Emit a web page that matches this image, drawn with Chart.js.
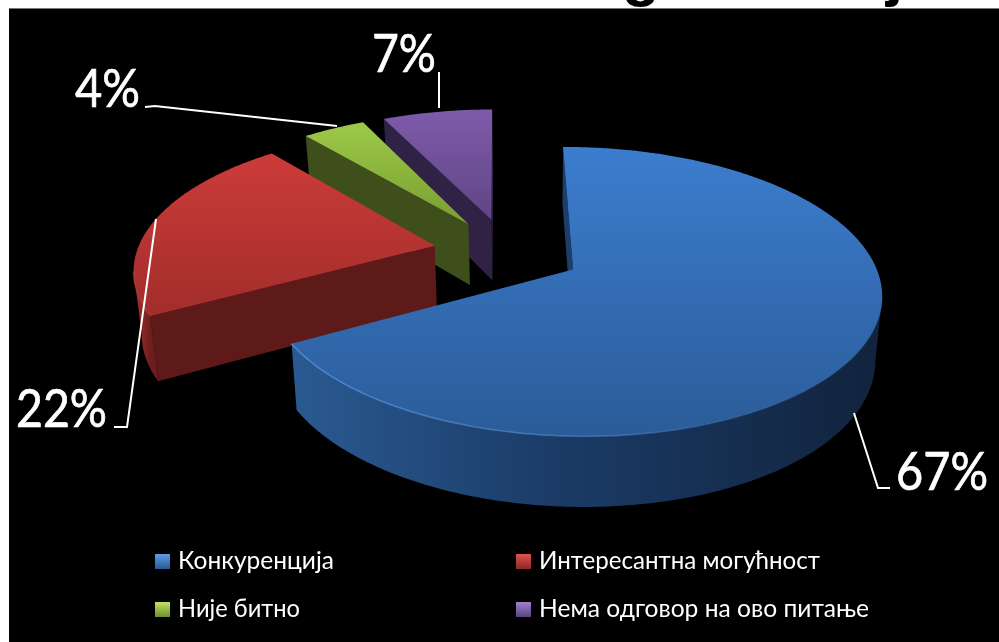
<!DOCTYPE html>
<html><head><meta charset="utf-8">
<style>html,body{margin:0;padding:0;background:#fff}canvas{display:block;filter:blur(0.5px)}</style>
<script src="https://cdn.jsdelivr.net/npm/chart.js@4"></script></head>
<body><canvas id="c" width="999" height="642"></canvas>
<script>
const categories = ['Конкуренција','Интересантна могућност','Није битно','Нема одговор на ово питање'];
const shares = [67,22,4,7];
const startRotation = -0.3;
const explode = 0.25;

const P = {x0:507.5,y0:252,a:298,b:136,p:0.15,bx:540,kx:0.98,h:62,ky:0.047};
const skins = [
 {top:['#3C7DCE','#2B5C99'],cut:'#1C3E68',wall:['#2A5A92','#1B3B66','#11233D'],rim:['rgba(90,150,225,0.8)','rgba(80,135,210,0.6)','rgba(60,110,180,0.1)'],sw:['#5C9CE6','#2A5A92']},
 {top:['#CC3C39','#A22D2B'],cut:'#5E1A18',wall:['#A93230','#8E2826','#6E1E1C'],rim:['rgba(215,80,75,0.4)','rgba(215,80,75,0.4)','rgba(215,80,75,0.4)'],sw:['#E0524E','#8E2826']},
 {top:['#9DC947','#789F31'],cut:'#3F4F1C',wall:['#5A7526','#4A601F','#3F4F1C'],rim:['rgba(0,0,0,0)','rgba(0,0,0,0)','rgba(0,0,0,0)'],sw:['#C2E060','#6E9030']},
 {top:['#7E5BAA','#5F4585'],cut:'#2F2245',wall:['#44325F','#382951','#2F2245'],rim:['rgba(0,0,0,0)','rgba(0,0,0,0)','rgba(0,0,0,0)'],sw:['#9F80CC','#5A4480']}
];
const labelSpots = [
 {x:896,y:490,w:92,lead:[[854,413],[878,488],[890,488]]},
 {x:16,y:427,w:91,lead:[[156,219],[127,427],[114,427]]},
 {x:75,y:107,w:65,lead:[[337,126],[155,106],[145,107]]},
 {x:372,y:72,w:64,lead:[[439,108],[439,72]]}
];
const legendSpots = [
 {x:155,y:561,w:156},{x:516,y:561,w:281},{x:155,y:609,w:122},{x:516,y:609,w:330}
];

function upper(U,V){const s=1/(1-P.p*V);return [P.x0+P.a*U*s,P.y0+P.b*V*s];}
function low(q){return [P.bx+P.kx*(q[0]-P.bx),q[1]+P.h+P.ky*(q[1]-P.y0)];}
function poly(ctx,pts){ctx.beginPath();pts.forEach((q,i)=>i?ctx.lineTo(q[0],q[1]):ctx.moveTo(q[0],q[1]));ctx.closePath();}
function cross(a,b,c){return (b[0]-a[0])*(c[1]-b[1])-(b[1]-a[1])*(c[0]-b[0]);}

function drawSlice(ctx,arc,i){
  const mid=(arc.startAngle+arc.endAngle)/2, dx=explode*Math.cos(mid), dy=explode*Math.sin(mid);
  const n=Math.max(8,Math.round((arc.endAngle-arc.startAngle)*90)), rim=[];
  for(let k=0;k<=n;k++){const t=arc.startAngle+(arc.endAngle-arc.startAngle)*k/n;rim.push(upper(dx+Math.cos(t),dy+Math.sin(t)));}
  const apex=upper(dx,dy), skin=skins[i];
  const rimLow=rim.map(low), apexLow=low(apex);
  ctx.fillStyle=skin.cut;
  if(cross(apex,rim[0],rimLow[0])<0){poly(ctx,[apex,rim[0],rimLow[0],apexLow]);ctx.fill();}
  if(cross(apex,rim[n],rimLow[n])>0){poly(ctx,[apex,rim[n],rimLow[n],apexLow]);ctx.fill();}
  const run=[];for(let k=0;k<n;k++){if(rim[k+1][0]<rim[k][0]){if(!run.length)run.push(k);run.push(k+1);}}
  let xa=0,xb=1;
  if(run.length){
    const T=run.map(k=>rim[k]),B=run.map(k=>rimLow[k]).reverse();
    const xs=T.map(q=>q[0]);xa=Math.min(...xs);xb=Math.max(...xs);
    const g=ctx.createLinearGradient(xa,0,xb,0);
    g.addColorStop(0,skin.wall[0]);g.addColorStop(0.45,skin.wall[1]);g.addColorStop(1,skin.wall[2]);
    poly(ctx,T.concat(B));ctx.fillStyle=g;ctx.fill();
  }
  const ring=[apex].concat(rim),ys=ring.map(q=>q[1]);
  const g=ctx.createLinearGradient(0,Math.min(...ys),0,Math.max(...ys));
  g.addColorStop(0,skin.top[0]);g.addColorStop(1,skin.top[1]);
  poly(ctx,ring);ctx.fillStyle=g;ctx.fill();
  if(run.length){
    const r=ctx.createLinearGradient(xa,0,xb,0);
    r.addColorStop(0,skin.rim[0]);r.addColorStop(0.55,skin.rim[1]);r.addColorStop(1,skin.rim[2]);
    ctx.beginPath();run.forEach((k,j)=>j?ctx.lineTo(rim[k][0],rim[k][1]):ctx.moveTo(rim[k][0],rim[k][1]));
    ctx.strokeStyle=r;ctx.lineWidth=1.5;ctx.stroke();
  }
}

const pie3d={id:'pie3d',
  beforeDraw(chart){
    const ctx=chart.ctx;ctx.save();
    ctx.fillStyle='#fff';ctx.fillRect(0,0,999,642);
    ctx.fillStyle='#000';ctx.fillRect(9,9,990,633);
    ctx.fillStyle='#777';ctx.fillRect(9,8,990,1);
    ctx.beginPath();ctx.rect(0,0,999,8);ctx.clip();
    ctx.fillStyle='#000';ctx.font='bold 62px "Liberation Sans"';ctx.textBaseline='alphabetic';
    ctx.fillText('g',622,-6);ctx.fillText('ј',886,-6);
    ctx.restore();
  },
  beforeDatasetDraw(chart,args){
    const ctx=chart.ctx,arcs=args.meta.data;
    const order=arcs.map((a,i)=>i).sort((m,n)=>Math.sin((arcs[m].startAngle+arcs[m].endAngle)/2)-Math.sin((arcs[n].startAngle+arcs[n].endAngle)/2));
    ctx.save();order.forEach(i=>drawSlice(ctx,arcs[i],i));ctx.restore();
    return false;
  },
  afterDraw(chart){
    const ctx=chart.ctx;ctx.save();
    ctx.strokeStyle='#fff';ctx.lineWidth=2;ctx.fillStyle='#fff';ctx.textBaseline='alphabetic';
    labelSpots.forEach((s,i)=>{
      ctx.lineWidth=2;
      ctx.beginPath();s.lead.forEach((q,k)=>k?ctx.lineTo(q[0],q[1]):ctx.moveTo(q[0],q[1]));ctx.stroke();
      ctx.font='52px Lato, "Open Sans"';ctx.textAlign='left';
      ctx.fillText(shares[i]+'%',s.x,s.y,s.w);
      ctx.lineWidth=0.7;ctx.strokeText(shares[i]+'%',s.x,s.y,s.w);
    });
    legendSpots.forEach((s,i)=>{
      const g=ctx.createLinearGradient(0,s.y-7,0,s.y+8);
      g.addColorStop(0,skins[i].sw[0]);g.addColorStop(1,skins[i].sw[1]);
      ctx.fillStyle=g;ctx.fillRect(s.x,s.y-7,15,15);
      ctx.fillStyle='#fff';ctx.font='25px Lato, "Open Sans"';
      ctx.fillText(categories[i],s.x+23,s.y+8,s.w);
    });
    ctx.restore();
  }
};

new Chart(document.getElementById('c'),{
  type:'pie',
  data:{labels:categories,datasets:[{data:shares,backgroundColor:skins.map(s=>s.top[0]),borderWidth:0}]},
  options:{responsive:false,animation:false,rotation:startRotation,
    plugins:{legend:{display:false},tooltip:{enabled:false}}},
  plugins:[pie3d]
});
</script></body></html>
